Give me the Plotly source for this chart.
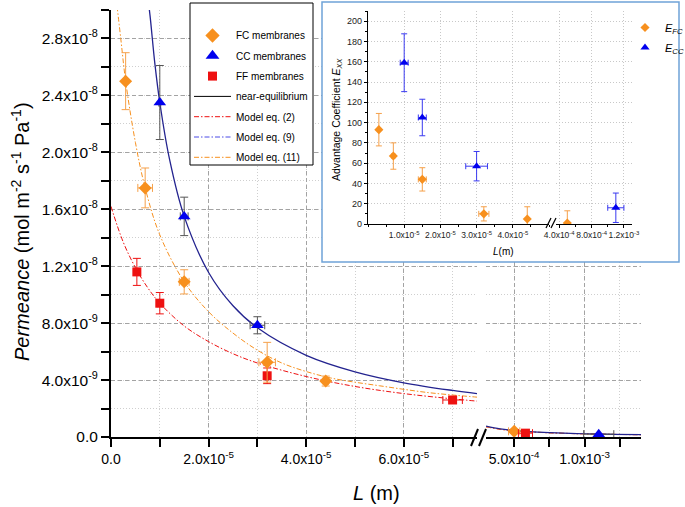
import plotly.graph_objects as go

# ---------------- data ----------------
# main plot, short membranes (left axis segment)
fc_L = [3.0e-6, 7.0e-6, 1.5e-5, 3.2e-5, 4.4e-5]
fc_P = [2.50e-8, 1.75e-8, 1.09e-8, 5.25e-9, 3.93e-9]
fc_Perr = [2.0e-9, 1.4e-9, 0.85e-9, 1.4e-9, 0.35e-9]
fc_Lerr = [0.3e-6, 1.5e-6, 1.0e-6, 1.7e-6, 0.5e-6]

cc_L = [1.0e-5, 1.5e-5, 3.0e-5]
cc_P = [2.35e-8, 1.55e-8, 7.85e-9]
cc_Perr = [2.6e-9, 1.35e-9, 0.6e-9]
cc_Lerr = [0.2e-6, 0.8e-6, 1.5e-6]

ff_L = [5.3e-6, 1.0e-5, 3.2e-5, 7.0e-5]
ff_P = [1.16e-8, 9.4e-9, 4.3e-9, 2.6e-9]
ff_Perr = [0.95e-9, 0.75e-9, 0.55e-9, 0.12e-9]
ff_Lerr = [0.3e-6, 0.5e-6, 0.5e-6, 2.0e-6]

# main plot, thick membranes (right axis segment)
fc_L_far = [5.0e-4]
fc_P_far = [0.40e-9]
fc_Perr_far = [0.15e-9]
fc_Lerr_far = [4.0e-5]
cc_L_far = [1.1e-3]
cc_P_far = [0.20e-9]
cc_Lerr_far = [1.07e-4]
ff_L_far = [5.8e-4]
ff_P_far = [0.27e-9]
ff_Lerr_far = [5.0e-5]

# model curves
red_L = [0, 2.5e-6, 5e-6, 7.5e-6, 1e-5, 1.5e-5, 2e-5, 2.5e-5, 3e-5, 4e-5, 5e-5, 6e-5, 7e-5, 7.5e-5]
red_P = [1.62e-8, 1.37e-8, 1.19e-8, 1.05e-8, 9.4e-9, 7.8e-9, 6.7e-9, 5.85e-9, 5.2e-9,
         4.25e-9, 3.55e-9, 3.05e-9, 2.68e-9, 2.52e-9]
orange_L = [1e-6, 2e-6, 3e-6, 5e-6, 7e-6, 1e-5, 1.5e-5, 2e-5, 2.5e-5, 3e-5, 3.5e-5, 4e-5,
            4.5e-5, 5e-5, 5.5e-5, 6e-5, 6.5e-5, 7e-5, 7.5e-5]
orange_P = [3.1e-8, 2.8e-8, 2.5e-8, 2.07e-8, 1.75e-8, 1.42e-8, 1.09e-8, 8.8e-9, 7.3e-9,
            6.1e-9, 5.2e-9, 4.6e-9, 4.15e-9, 3.85e-9, 3.6e-9, 3.35e-9, 3.12e-9, 2.95e-9, 2.8e-9]
navy_L = [7.5e-6, 8e-6, 9e-6, 1e-5, 1.2e-5, 1.5e-5, 2e-5, 2.5e-5, 3e-5, 4e-5, 5e-5, 6e-5, 7e-5, 7.5e-5]
navy_P = [3.1e-8, 2.96e-8, 2.62e-8, 2.35e-8, 1.95e-8, 1.55e-8, 1.156e-8, 9.22e-9, 7.67e-9,
          5.74e-9, 4.58e-9, 3.81e-9, 3.27e-9, 3.05e-9]
far_L = [3.0e-4, 4.0e-4, 5.0e-4, 6.0e-4, 7.5e-4, 9.0e-4, 1.0e-3, 1.2e-3, 1.4e-3]
far_navy_P = [7.6e-10, 5.7e-10, 4.55e-10, 3.8e-10, 3.04e-10, 2.53e-10, 2.28e-10, 1.9e-10, 1.63e-10]
far_orange_P = [7.3e-10, 5.5e-10, 4.4e-10, 3.7e-10, 2.95e-10, 2.45e-10, 2.2e-10, 1.85e-10, 1.6e-10]
far_red_P = [7.13e-10, 5.41e-10, 4.36e-10, 3.65e-10, 2.93e-10, 2.45e-10, 2.21e-10, 1.85e-10, 1.58e-10]

# inset: advantage coefficients
efc_L = [3.0e-6, 7.0e-6, 1.5e-5, 3.2e-5, 4.4e-5]
efc = [93, 67, 44, 10, 5]
efc_err = [16, 13, 11.5, 7, 12]
efc_Lerr = [0.2e-6, 0.4e-6, 1.1e-6, 1.4e-6, 0.2e-6]
efc_L_far = [5.0e-4]
efc_far = [1]
efc_err_far = [12]
ecc_L = [1.0e-5, 1.5e-5, 3.0e-5]
ecc = [159, 105, 57]
ecc_err = [28.5, 18, 14.5]
ecc_Lerr = [1.1e-6, 1.1e-6, 3.0e-6]
ecc_L_far = [1.1e-3]
ecc_far = [16]
ecc_err_far = [14.5]
ecc_Lerr_far = [1.0e-4]

# tick labels
main_y_vals = [0, 4e-9, 8e-9, 1.2e-8, 1.6e-8, 2.0e-8, 2.4e-8, 2.8e-8]
main_y_text = ["0.0", "4.0x10<sup>-9</sup>", "8.0x10<sup>-9</sup>", "1.2x10<sup>-8</sup>",
               "1.6x10<sup>-8</sup>", "2.0x10<sup>-8</sup>", "2.4x10<sup>-8</sup>", "2.8x10<sup>-8</sup>"]
main_x_vals = [0, 2e-5, 4e-5, 6e-5]
main_x_text = ["0.0", "2.0x10<sup>-5</sup>", "4.0x10<sup>-5</sup>", "6.0x10<sup>-5</sup>"]
main_x2_vals = [5e-4, 1e-3]
main_x2_text = ["5.0x10<sup>-4</sup>", "1.0x10<sup>-3</sup>"]
ins_y_vals = [0, 20, 40, 60, 80, 100, 120, 140, 160, 180, 200]
ins_x_vals = [1e-5, 2e-5, 3e-5, 4e-5]
ins_x_text = ["1.0x10<sup>-5</sup>", "2.0x10<sup>-5</sup>", "3.0x10<sup>-5</sup>", "4.0x10<sup>-5</sup>"]
ins_x2_vals = [4e-4, 8e-4, 1.2e-3]
ins_x2_text = ["4.0x10<sup>-4</sup>", "8.0x10<sup>-4</sup>", "1.2x10<sup>-3</sup>"]

# ---------------- layout helpers ----------------
FONT = "Liberation Sans, Arial, sans-serif"
W, H = 685, 507
ML, MR, MT, MB = 111, 5, 2, 70
PW = W - ML - MR
PH = H - MT - MB


def fx(px):
    return (px - ML) / PW


def fy(py):
    return (H - MB - py) / PH


ORANGE = "#f7901e"
ORANGE_ERR = "#f5a04a"
BLUE = "#0000ee"
RED = "#ee1111"
NAVY = "#23238f"
DASHDOT = "5px,2px,1.5px,2px"

fig = go.Figure()

# legend-only entries for the main legend
legend_entries = [
    dict(name="FC membranes", mode="markers", marker=dict(symbol="diamond", size=11, color=ORANGE)),
    dict(name="CC membranes", mode="markers", marker=dict(symbol="triangle-up", size=12, color=BLUE)),
    dict(name="FF membranes", mode="markers", marker=dict(symbol="square", size=9, color=RED)),
    dict(name="near-equilibrium", mode="lines", line=dict(color="black", width=1)),
    dict(name="Model eq. (2)", mode="lines", line=dict(color=RED, width=1, dash=DASHDOT)),
    dict(name="Model eq. (9)", mode="lines", line=dict(color="#4a4ae6", width=1, dash=DASHDOT)),
    dict(name="Model eq. (11)", mode="lines", line=dict(color=ORANGE, width=1, dash=DASHDOT)),
]
for i, e in enumerate(legend_entries):
    fig.add_trace(go.Scatter(x=[None], y=[None], legendgroup=f"g{i}", legend="legend",
                             hoverinfo="skip", **e))

# model curves (left segment)
fig.add_trace(go.Scatter(x=red_L, y=red_P, mode="lines", line=dict(color=RED, width=1, dash=DASHDOT, shape="spline"),
                         showlegend=False, xaxis="x", yaxis="y"))
fig.add_trace(go.Scatter(x=orange_L, y=orange_P, mode="lines", line=dict(color=ORANGE, width=1, dash=DASHDOT, shape="spline"),
                         showlegend=False, xaxis="x", yaxis="y"))
fig.add_trace(go.Scatter(x=navy_L, y=navy_P, mode="lines", line=dict(color=NAVY, width=1.3, shape="spline"),
                         showlegend=False, xaxis="x", yaxis="y"))
# model curves (right segment)
fig.add_trace(go.Scatter(x=far_L, y=far_red_P, mode="lines", line=dict(color=RED, width=1, dash=DASHDOT, shape="spline"),
                         showlegend=False, xaxis="x2", yaxis="y"))
fig.add_trace(go.Scatter(x=far_L, y=far_orange_P, mode="lines", line=dict(color=ORANGE, width=1, dash=DASHDOT, shape="spline"),
                         showlegend=False, xaxis="x2", yaxis="y"))
fig.add_trace(go.Scatter(x=far_L, y=far_navy_P, mode="lines", line=dict(color=NAVY, width=1.2, shape="spline"),
                         showlegend=False, xaxis="x2", yaxis="y"))


def pts(x, y, yerr, xerr, sym, size, color, ecolor, xa, ya="y", showlegend=False, name=None, legend="legend"):
    return go.Scatter(
        x=x, y=y, mode="markers", xaxis=xa, yaxis=ya, showlegend=showlegend, name=name, legend=legend,
        marker=dict(symbol=sym, size=size, color=color),
        error_y=dict(type="data", array=yerr, color=ecolor, thickness=1, width=4, visible=yerr is not None),
        error_x=dict(type="data", array=xerr, color=ecolor, thickness=1, width=4, visible=xerr is not None),
    )


fig.add_trace(pts(ff_L, ff_P, ff_Perr, ff_Lerr, "square", 9, RED, RED, "x"))
fig.add_trace(pts(fc_L, fc_P, fc_Perr, fc_Lerr, "diamond", 10, ORANGE, ORANGE_ERR, "x"))
fig.add_trace(pts(cc_L, cc_P, cc_Perr, cc_Lerr, "triangle-up", 11, BLUE, "#555555", "x"))
fig.add_trace(pts(fc_L_far, fc_P_far, fc_Perr_far, fc_Lerr_far, "diamond", 10, ORANGE, ORANGE_ERR, "x2"))
fig.add_trace(pts(ff_L_far, ff_P_far, None, ff_Lerr_far, "square", 9, RED, RED, "x2"))
fig.add_trace(pts(cc_L_far, cc_P_far, None, cc_Lerr_far, "triangle-up", 11, BLUE, "#555555", "x2"))

# white cover subplot for the inset box (hides main grid behind inset)
fig.add_trace(go.Scatter(x=[None], y=[None], xaxis="x3", yaxis="y2", showlegend=False, hoverinfo="skip"))

# inset traces
fig.add_trace(pts(efc_L, efc, efc_err, efc_Lerr, "diamond", 7, ORANGE, ORANGE_ERR, "x4", "y3",
                  showlegend=True, name="<i>E<sub>FC</sub></i>", legend="legend2"))
fig.add_trace(pts(ecc_L, ecc, ecc_err, ecc_Lerr, "triangle-up", 8, BLUE, "#3a3af0", "x4", "y3",
                  showlegend=True, name="<i>E<sub>CC</sub></i>", legend="legend2"))
fig.add_trace(pts(efc_L_far, efc_far, efc_err_far, None, "diamond", 7, ORANGE, ORANGE_ERR, "x5", "y3"))
fig.add_trace(pts(ecc_L_far, ecc_far, ecc_err_far, ecc_Lerr_far, "triangle-up", 8, BLUE, "#3a3af0", "x5", "y3"))
for tr in fig.data[-4:]:
    tr.error_y.width = 3
    tr.error_x.width = 3
fig.data[-4].legendgroup = "i1"
fig.data[-3].legendgroup = "i2"

MAJ_GRID = dict(showgrid=True, gridcolor="#a3a3a3", gridwidth=1, griddash="4px,3px")
MIN_GRID = dict(showgrid=True, gridcolor="#cfcfcf", gridwidth=1, griddash="1px,2px")
AX = dict(showline=True, linecolor="black", linewidth=2, ticks="outside", ticklen=8, tickwidth=2,
          tickcolor="black", zeroline=False, mirror=False, automargin=False)
INS = dict(showline=True, linecolor="black", linewidth=1.2, ticks="outside", ticklen=3, tickcolor="black",
           zeroline=False, showgrid=True, gridcolor="#c8c8c8", griddash="1px,2px", automargin=False)

fig.update_layout(
    width=W, height=H,
    margin=dict(l=ML, r=MR, t=MT, b=MB, pad=0, autoexpand=False),
    paper_bgcolor="white", plot_bgcolor="white",
    font=dict(family=FONT, color="black"),
    xaxis=dict(domain=[0, fx(477)], range=[0, 7.5e-5], anchor="y", tickmode="array",
               tickvals=main_x_vals, ticktext=main_x_text, tickfont=dict(size=14), tickangle=0, **AX, **MAJ_GRID,
               minor=dict(dtick=1e-5, tick0=0, ticks="outside", ticklen=8, tickwidth=2, tickcolor="black", **MIN_GRID)),
    xaxis2=dict(domain=[fx(486), fx(641)], range=[3e-4, 1.4e-3], anchor="y", tickmode="array",
                tickvals=main_x2_vals, ticktext=main_x2_text, tickfont=dict(size=14), tickangle=0, **AX, **MAJ_GRID,
                minor=dict(dtick=2.5e-4, tick0=0, ticks="outside", ticklen=8, tickwidth=2, tickcolor="black", **MIN_GRID)),
    yaxis=dict(domain=[0, fy(10)], range=[0, 3.0e-8], anchor="x", tickmode="array",
               tickvals=main_y_vals, ticktext=main_y_text, tickfont=dict(size=15.5), **AX, **MAJ_GRID,
               minor=dict(dtick=2e-9, tick0=0, ticks="outside", ticklen=8, tickwidth=2, tickcolor="black", **MIN_GRID)),
    xaxis3=dict(domain=[fx(322), fx(679)], anchor="y2", visible=False, range=[0, 1]),
    yaxis2=dict(domain=[fy(262), fy(2)], anchor="x3", visible=False, range=[0, 1]),
    xaxis4=dict(domain=[fx(368), fx(549)], range=[0, 5e-5], anchor="y3", tickmode="array",
                tickvals=ins_x_vals, ticktext=ins_x_text, tickfont=dict(size=8.5, color="#222"), tickangle=0, **INS,
                minor=dict(dtick=5e-6, tick0=0, ticks="outside", ticklen=2, tickcolor="black", showgrid=False)),
    xaxis5=dict(domain=[fx(556), fx(632)], range=[3.6e-4, 1.3e-3], anchor="y3", tickmode="array",
                tickvals=ins_x2_vals, ticktext=ins_x2_text, tickfont=dict(size=8.5, color="#222"), tickangle=0, **INS,
                minor=dict(dtick=2e-4, tick0=0, ticks="outside", ticklen=2, tickcolor="black", showgrid=False)),
    yaxis3=dict(domain=[fy(224), fy(11)], range=[0, 210], anchor="x4", tickmode="array",
                tickvals=ins_y_vals, tickfont=dict(size=9, color="#222"), **INS,
                minor=dict(dtick=10, tick0=0, ticks="outside", ticklen=2, tickcolor="black", showgrid=False)),
    legend=dict(x=fx(189), y=fy(21), xanchor="left", yanchor="top", bgcolor="rgba(0,0,0,0)",
                borderwidth=0, font=dict(size=10, family=FONT), itemwidth=37,
                traceorder="grouped", tracegroupgap=1.3),
    legend2=dict(x=fx(625), y=fy(13), xanchor="left", yanchor="top", bgcolor="rgba(0,0,0,0)",
                 borderwidth=0, font=dict(size=11, family=FONT), itemwidth=30,
                 traceorder="grouped", tracegroupgap=1),
    showlegend=True,
)

shapes = []
# main legend frame (white, drawn above grid)
shapes.append(dict(type="rect", xref="paper", yref="paper", x0=fx(190), x1=fx(313), y0=fy(165), y1=fy(3),
                   line=dict(color="black", width=1), fillcolor="white", layer="above"))
# inset frame
shapes.append(dict(type="rect", xref="paper", yref="paper", x0=fx(322), x1=fx(679), y0=fy(262), y1=fy(2),
                   line=dict(color="#6fa3d8", width=1.5), fillcolor="rgba(0,0,0,0)", layer="above"))
# axis break marks
for (a, b) in [((471, 446), (478, 429)), ((479, 446), (486, 429))]:
    shapes.append(dict(type="line", xref="paper", yref="paper", x0=fx(a[0]), y0=fy(a[1]), x1=fx(b[0]), y1=fy(b[1]),
                       line=dict(color="black", width=2), layer="above"))
for (a, b) in [((546, 228), (551, 218)), ((551, 228), (556, 218))]:
    shapes.append(dict(type="line", xref="paper", yref="paper", x0=fx(a[0]), y0=fy(a[1]), x1=fx(b[0]), y1=fy(b[1]),
                       line=dict(color="black", width=1.2), layer="above"))
fig.update_layout(shapes=shapes)

annotations = [
    dict(text="<i>Permeance</i> (mol m<sup>-2</sup> s<sup>-1</sup> Pa<sup>-1</sup>)", xref="paper", yref="paper",
         x=fx(20), y=fy(232), textangle=-90, showarrow=False, font=dict(size=20, family=FONT),
         xanchor="center", yanchor="middle"),
    dict(text="<i>L</i> (m)", xref="paper", yref="paper", x=fx(376), y=fy(493), showarrow=False,
         font=dict(size=20, family=FONT), xanchor="center", yanchor="middle"),
    dict(text="Advantage Coefficient <i>E<sub>XX</sub></i>", xref="paper", yref="paper",
         x=fx(337), y=fy(120), textangle=-90, showarrow=False, font=dict(size=10.5, family=FONT),
         xanchor="center", yanchor="middle"),
    dict(text="<i>L</i>(m)", xref="paper", yref="paper", x=fx(503), y=fy(252), showarrow=False,
         font=dict(size=10, family=FONT), xanchor="center", yanchor="middle"),
]
fig.update_layout(annotations=annotations)

fig.write_html("out.html", config={"displayModeBar": False},
               post_script="document.body.style.margin='0';document.body.style.overflow='hidden';")
